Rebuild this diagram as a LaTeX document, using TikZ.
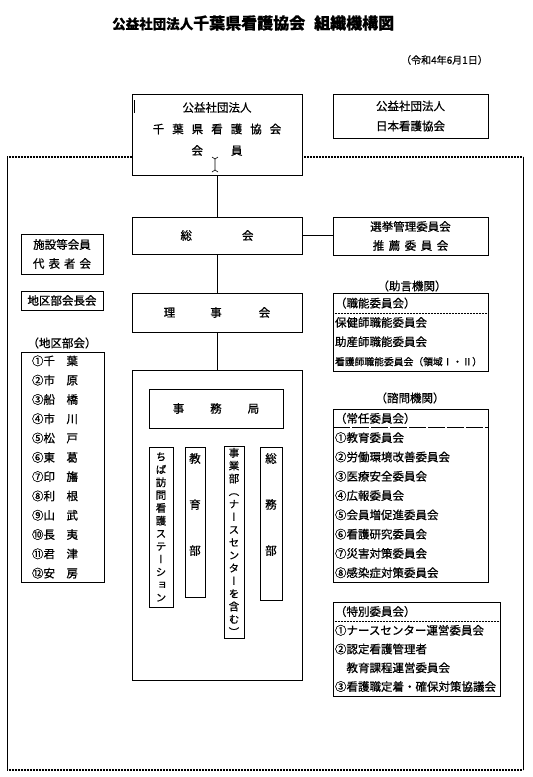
\documentclass[tikz,border=0pt]{standalone}
\usepackage{fontspec}
\setmainfont{Noto Sans CJK JP}[FakeBold=0.7]
\newfontfamily\vertfont[RawFeature=+vert, FakeBold=0.7]{Noto Sans CJK JP}
\usetikzlibrary{positioning, calc}
\tikzset{
  orgbox/.style   = {rectangle, draw, line width=0.9pt, fill=white,
                     inner sep=0pt, outer sep=0pt, align=center,
                     font=\fontsize{11.5}{19}\selectfont},
  listbox/.style  = {rectangle, draw, line width=0.9pt, fill=white,
                     inner ysep=0pt, inner xsep=2pt, outer sep=0pt, align=left,
                     font=\fontsize{11.5}{19.3}\selectfont},
  vbox/.style     = {rectangle, draw, line width=0.9pt, fill=white,
                     inner sep=0pt, outer sep=0pt, align=center,
                     font=\vertfont\fontsize{10.5}{12.8}\selectfont},
  lbl/.style      = {inner sep=0pt, font=\fontsize{11.5}{14}\selectfont},
  conn/.style     = {line width=0.9pt},
  sepdot/.style   = {line width=1pt, dash pattern=on 0.9pt off 0.6pt},
  sepdash/.style  = {line width=0.7pt, dash pattern=on 17pt off 2pt},
  outerline/.style= {line width=0.9pt},
}

\begin{document}
\begin{tikzpicture}[x=1pt, y=-1pt]
  \useasboundingbox (0,0) rectangle (533,777);

  % heading
  \node[lbl, anchor=west, font=\bfseries] (title) at (112,23)
       {{\fontsize{13.5}{16}\selectfont 公益社団法人}{\fontsize{16}{18}\selectfont 千葉県看護協会\hspace{9pt}組織機構図}};
  \node[lbl, anchor=east, font=\fontsize{10}{12}\selectfont] (date) at (488,60) {（令和4年6月1日）};

  % outer frame
  \draw[outerline] (7,157) -- (7,770);
  \draw[outerline] (523,157) -- (523,770);
  \draw[sepdot, line width=1.3pt] (7,157) -- (523,157);
  \draw[sepdot, line width=1.3pt] (7,770) -- (523,770);

  % centre column
  \node[orgbox, minimum width=170pt, minimum height=81pt] (kaiin) at (217,134.5)
       {公益社団法人\\[2.5pt]
        千\hspace{8pt}葉\hspace{8pt}県\hspace{8pt}看\hspace{8pt}護\hspace{8pt}協\hspace{8pt}会\\[2.5pt]
        会\hspace{28pt}員\rule[-12pt]{0pt}{0pt}};
  \node[orgbox, minimum width=170pt, minimum height=37pt, below=42pt of kaiin] (sokai)
       {総\hspace{50pt}会};
  \node[orgbox, minimum width=170pt, minimum height=39pt, below=39pt of sokai] (rijikai)
       {理\hspace{35pt}事\hspace{37pt}会};
  \node[orgbox, minimum width=170pt, minimum height=310pt, below=38pt of rijikai] (jimu) {};
  \node[orgbox, minimum width=134pt, minimum height=39pt] (jimukyoku) at (216,408.5)
       {事\hspace{26pt}務\hspace{26pt}局};

  % departments (vertical writing)
  \node[vbox, minimum width=24pt, minimum height=160pt] (station) at (161,527)
       {ち\\ば\\訪\\問\\看\\護\\ス\\テ\\ー\\シ\\ョ\\ン};
  \node[vbox, minimum width=20pt, minimum height=150pt, font=\fontsize{11.5}{13}\selectfont] (kyoiku) at (195,522)
       {教\\[33pt]育\\[33pt]部\rule[-36pt]{0pt}{0pt}};
  \node[vbox, minimum width=20pt, minimum height=192pt] (jigyo) at (234,542)
       {事\\業\\部\\（\\ナ\\ー\\ス\\セ\\ン\\タ\\ー\\を\\含\\む\\）};
  \node[vbox, minimum width=22pt, minimum height=153pt, font=\fontsize{11.5}{13}\selectfont] (somu) at (271,523.5)
       {総\\[33pt]務\\[33pt]部\rule[-39pt]{0pt}{0pt}};

  % left column
  \node[orgbox, minimum width=82pt, minimum height=40pt] (shisetsu) at (62,254)
       {施設等会員\\代\hspace{4pt}表\hspace{4pt}者\hspace{4pt}会};
  \node[orgbox, minimum width=82pt, minimum height=19pt, below=17pt of shisetsu] (chikucho)
       {地区部会長会};
  \node[lbl] (chikulbl) at (62,343) {（地区部会）};
  \node[listbox, text width=61pt, inner xsep=11pt, minimum height=230pt] (chiku) at (62.5,467)
       {①千　葉\\②市　原\\③船　橋\\④市　川\\⑤松　戸\\⑥東　葛\\
        ⑦印　旛\\⑧利　根\\⑨山　武\\⑩長　夷\\⑪君　津\\⑫安　房};

  % right column
  \node[orgbox, minimum width=155pt, minimum height=44pt, font=\fontsize{11.5}{20}\selectfont] (nihon) at (410.5,116)
       {公益社団法人\\日本看護協会};
  \node[orgbox, minimum width=155pt, minimum height=38pt] (senkyo) at (410.5,236)
       {選挙管理委員会\\推\hspace{4.5pt}薦\hspace{4.5pt}委\hspace{4.5pt}員\hspace{4.5pt}会};
  \node[lbl] (jogenlbl) at (412,286) {（助言機関）};
  \node[listbox, text width=151pt, minimum height=78pt] (shokuno) at (410.5,332)
       {（職能委員会）\\保健師職能委員会\\助産師職能委員会\\
        {\fontsize{9.8}{12}\selectfont 看護師職能委員会（領域Ⅰ・Ⅱ）}};
  \node[lbl] (shimonlbl) at (410,398) {（諮問機関）};
  \node[listbox, text width=151pt, minimum height=173pt] (jonin) at (410.5,495.5)
       {（常任委員会）\\①教育委員会\\②労働環境改善委員会\\③医療安全委員会\\④広報委員会\\
        ⑤会員増促進委員会\\⑥看護研究委員会\\⑦災害対策委員会\\⑧感染症対策委員会};
  \node[listbox, text width=163pt, minimum height=94pt, font=\fontsize{11.5}{18.75}\selectfont] (tokubetsu) at (416.5,649)
       {（特別委員会）\\①ナースセンター運営委員会\\②認定看護管理者\\
        \hspace*{1em}教育課程運営委員会\\③看護職定着・確保対策協議会};

  % separators
  \draw[sepdot] ($(shokuno.north west)+(0,20)$) -- ($(shokuno.north east)+(0,20)$);
  \draw[sepdash] ($(jonin.north west)+(0,18)$) -- ($(jonin.north east)+(0,18)$);
  \draw[sepdot] ($(tokubetsu.north west)+(0,19)$) -- ($(tokubetsu.north east)+(0,19)$);

  % connectors
  \draw[conn] (kaiin) -- (sokai);
  \draw[conn] (sokai) -- (rijikai);
  \draw[conn] (rijikai) -- (jimu);
  \draw[conn] (sokai.east) -- (sokai.east -| senkyo.west);

  % cursor marks
  \draw[line width=0.6pt] (134,100) -- (134,113);
  \draw[line width=0.6pt] (212,157) -- (215,159) -- (218,157)
                          (215,159) -- (215,170)
                          (212,172) -- (215,170) -- (218,172);
\end{tikzpicture}
\end{document}
